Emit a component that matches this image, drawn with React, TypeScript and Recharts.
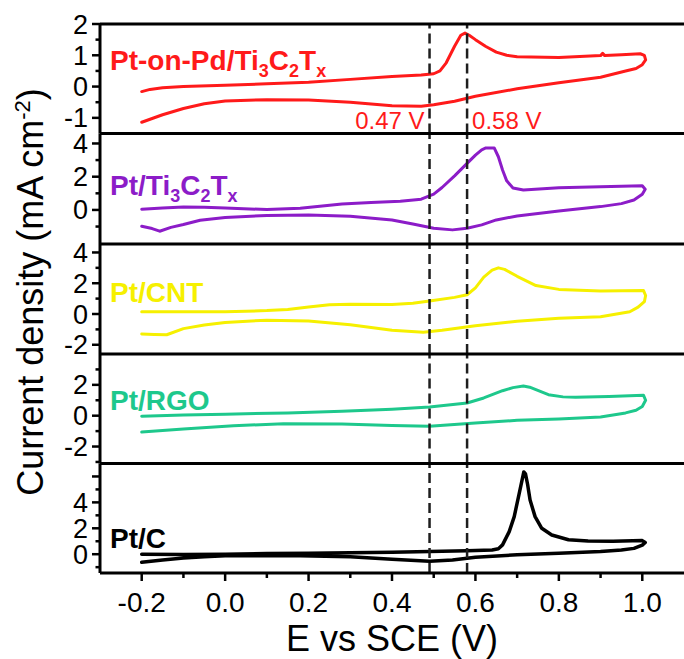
import React from 'react';
import { LineChart, Line, XAxis, YAxis, ReferenceLine } from 'recharts';

type Pt = [number, number];

const W = 684;
const H = 659;
const FONT = '"Liberation Sans", Arial, Helvetica, sans-serif';

// ---------- axis values / labels ----------
const X_DOMAIN: [number, number] = [-0.3, 1.1];
const X_TICKS_MAJOR = [-0.2, 0.0, 0.2, 0.4, 0.6, 0.8, 1.0];
const X_TICKS_MINOR = [-0.1, 0.1, 0.3, 0.5, 0.7, 0.9];
const X_TITLE = 'E vs SCE (V)';
const Y_TITLE = 'Current density (mA cm';
const Y_TITLE_SUP = '-2';

const MARKER_E = [0.49, 0.58];
const MARKER_LABELS = ['0.47 V', '0.58 V'];

// ---------- series (E in V, j in mA cm-2), forward then reverse scan ----------
const PT_ON_PD_TI3C2TX: Pt[] = [
  [-0.2, -0.16], [-0.18, -0.09], [-0.15, -0.04], [-0.1, 0.0], [0.0, 0.04], [0.1, 0.09],
  [0.2, 0.14], [0.3, 0.23], [0.4, 0.32], [0.47, 0.37], [0.5, 0.41], [0.515, 0.5],
  [0.53, 0.76], [0.55, 1.29], [0.565, 1.64], [0.575, 1.71], [0.585, 1.64], [0.6, 1.5],
  [0.625, 1.28], [0.65, 1.1], [0.675, 1.0], [0.7, 0.95], [0.8, 0.93], [0.9, 0.99],
  [0.905, 1.06], [0.91, 0.99], [0.95, 1.02], [0.995, 1.05], [1.005, 1.0], [1.008, 0.85],
  [1.0, 0.7], [0.985, 0.58], [0.96, 0.5], [0.9, 0.3], [0.8, 0.12], [0.7, -0.07],
  [0.6, -0.31], [0.55, -0.47], [0.5, -0.58], [0.47, -0.63], [0.4, -0.61], [0.3, -0.5],
  [0.2, -0.43], [0.1, -0.42], [0.0, -0.46], [-0.05, -0.55], [-0.1, -0.7], [-0.15, -0.9],
  [-0.2, -1.14],
];

const PT_TI3C2TX: Pt[] = [
  [-0.2, 0.04], [-0.15, 0.12], [-0.1, 0.18], [-0.05, 0.16], [0.0, 0.12], [0.1, 0.02],
  [0.18, 0.1], [0.28, 0.36], [0.35, 0.45], [0.42, 0.52], [0.47, 0.65], [0.5, 0.95],
  [0.52, 1.35], [0.55, 2.05], [0.58, 2.8], [0.6, 3.3], [0.615, 3.62], [0.625, 3.73],
  [0.645, 3.73], [0.655, 3.2], [0.665, 2.4], [0.675, 1.75], [0.69, 1.32], [0.715, 1.2],
  [0.8, 1.33], [0.9, 1.4], [1.0, 1.45], [1.007, 1.25], [1.0, 0.95], [0.98, 0.6],
  [0.95, 0.38], [0.9, 0.2], [0.8, -0.06], [0.7, -0.36], [0.65, -0.6], [0.615, -0.9],
  [0.58, -1.1], [0.545, -1.2], [0.5, -1.1], [0.45, -0.85], [0.4, -0.6], [0.3, -0.38],
  [0.2, -0.3], [0.1, -0.33], [0.0, -0.45], [-0.06, -0.62], [-0.1, -0.88], [-0.13, -1.05],
  [-0.157, -1.28], [-0.175, -1.12], [-0.2, -0.98],
];

const PT_CNT: Pt[] = [
  [-0.2, 0.15], [-0.1, 0.15], [0.0, 0.15], [0.1, 0.22], [0.15, 0.3], [0.2, 0.45],
  [0.25, 0.6], [0.3, 0.64], [0.4, 0.62], [0.45, 0.7], [0.49, 0.85], [0.55, 1.08],
  [0.58, 1.25], [0.6, 1.7], [0.62, 2.4], [0.64, 2.85], [0.655, 3.0], [0.67, 2.9],
  [0.7, 2.45], [0.745, 1.85], [0.8, 1.6], [0.9, 1.5], [1.003, 1.52], [1.008, 1.2],
  [1.005, 0.8], [0.99, 0.45], [0.97, 0.15], [0.9, -0.18], [0.8, -0.28], [0.7, -0.47],
  [0.6, -0.76], [0.52, -1.05], [0.475, -1.18], [0.4, -1.06], [0.3, -0.7], [0.2, -0.45],
  [0.1, -0.4], [0.0, -0.55], [-0.05, -0.72], [-0.1, -0.95], [-0.14, -1.35], [-0.17, -1.33],
  [-0.2, -1.3],
];

const PT_RGO: Pt[] = [
  [-0.2, -0.03], [-0.1, 0.05], [0.0, 0.1], [0.15, 0.18], [0.28, 0.28], [0.4, 0.42],
  [0.49, 0.56], [0.58, 0.82], [0.62, 1.15], [0.665, 1.62], [0.69, 1.82], [0.715, 1.92],
  [0.73, 1.85], [0.745, 1.69], [0.775, 1.36], [0.81, 1.22], [0.84, 1.19], [0.92, 1.25],
  [1.003, 1.32], [1.008, 1.0], [1.0, 0.6], [0.985, 0.35], [0.96, 0.18], [0.9, -0.08],
  [0.8, -0.21], [0.7, -0.3], [0.6, -0.47], [0.49, -0.69], [0.4, -0.63], [0.28, -0.54],
  [0.14, -0.52], [0.02, -0.65], [-0.1, -0.87], [-0.2, -1.06],
];

const PT_C: Pt[] = [
  [-0.2, 0.0], [-0.1, -0.02], [0.0, 0.0], [0.1, 0.05], [0.2, 0.08], [0.3, 0.12],
  [0.4, 0.16], [0.49, 0.2], [0.58, 0.26], [0.64, 0.33], [0.655, 0.42], [0.665, 0.72],
  [0.681, 1.74], [0.693, 2.9], [0.705, 4.7], [0.716, 6.35], [0.72, 6.2], [0.725, 5.4],
  [0.731, 4.18], [0.743, 2.9], [0.759, 2.0], [0.783, 1.48], [0.823, 1.12], [0.87, 1.02],
  [0.93, 1.0], [1.0, 1.05], [1.007, 0.9], [1.0, 0.7], [0.98, 0.45], [0.95, 0.32],
  [0.9, 0.2], [0.8, 0.08], [0.7, -0.05], [0.6, -0.23], [0.545, -0.45], [0.49, -0.55],
  [0.4, -0.38], [0.3, -0.2], [0.15, -0.1], [0.0, -0.12], [-0.05, -0.2], [-0.1, -0.3],
  [-0.15, -0.44], [-0.2, -0.62],
];

// ---------- panel layout / styling ----------
const BOUNDS = [24, 133.5, 244, 354, 463.5, 573];

type Part = [string, boolean];
interface PanelCfg {
  data: Pt[];
  color: string;
  width: number;
  domain: [number, number];
  labeled: number[];
  major: number[];
  minor: number[];
  name: Part[];
  nameY: number;
}

const PANELS: PanelCfg[] = [
  {
    data: PT_ON_PD_TI3C2TX, color: '#ff1a1a', width: 3, domain: [-1.5, 2],
    labeled: [-1, 0, 1, 2], major: [], minor: [-0.5, 0.5, 1.5],
    name: [['Pt-on-Pd/Ti', false], ['3', true], ['C', false], ['2', true], ['T', false], ['x', true]],
    nameY: 70,
  },
  {
    data: PT_TI3C2TX, color: '#8c1cc8', width: 3, domain: [-2.05, 4.6],
    labeled: [0, 2, 4], major: [], minor: [-1, 1, 3],
    name: [['Pt/Ti', false], ['3', true], ['C', false], ['2', true], ['T', false], ['x', true]],
    nameY: 195,
  },
  {
    data: PT_CNT, color: '#f6f000', width: 3, domain: [-2.6, 4.55],
    labeled: [-2, 0, 2, 4], major: [], minor: [-1, 1, 3],
    name: [['Pt/CNT', false]],
    nameY: 302,
  },
  {
    data: PT_RGO, color: '#1ec88c', width: 3, domain: [-3.1, 4.0],
    labeled: [-2, 0, 2], major: [], minor: [-3, -1, 1, 3],
    name: [['Pt/RGO', false]],
    nameY: 410,
  },
  {
    data: PT_C, color: '#000000', width: 3.5, domain: [-1.45, 7.0],
    labeled: [0, 2, 4], major: [6], minor: [-1, 1, 3, 5],
    name: [['Pt/C', false]],
    nameY: 548,
  },
];

const near = (a: number, b: number) => Math.abs(a - b) < 1e-9;

const XTick = (props: any) => {
  const { x, y, payload } = props;
  const v = payload.value as number;
  const major = X_TICKS_MAJOR.some((m) => near(m, v));
  return (
    <g>
      <line x1={x} x2={x} y1={y} y2={y + (major ? 8 : 5)} stroke="#000" strokeWidth={2.5} />
      {major && (
        <text x={x} y={y + 39} textAnchor="middle" fontSize={28} fontFamily={FONT} fill="#000">
          {v.toFixed(1)}
        </text>
      )}
    </g>
  );
};

const makeYTick = (p: PanelCfg) => (props: any) => {
  const { x, y, payload } = props;
  const v = payload.value as number;
  const lab = p.labeled.some((m) => near(m, v));
  const maj = lab || p.major.some((m) => near(m, v));
  return (
    <g>
      <line x1={x} x2={x - (maj ? 8 : 4.5)} y1={y} y2={y} stroke="#000" strokeWidth={2.5} />
      {lab && (
        <text x={x - 12} y={y + 9.5} textAnchor="end" fontSize={27} fontFamily={FONT} fill="#000">
          {String(v)}
        </text>
      )}
    </g>
  );
};

const PanelName = ({ parts, y, color }: { parts: Part[]; y: number; color: string }) => (
  <text x={110} y={y} fill={color} fontSize={28} fontWeight="bold" fontFamily={FONT}>
    {parts.map(([t, sub], i) => {
      const prevSub = i > 0 && parts[i - 1][1];
      const dy = sub ? 7 : prevSub ? -7 : 0;
      return (
        <tspan key={i} dy={dy} fontSize={sub ? 18 : 28}>
          {t}
        </tspan>
      );
    })}
  </text>
);

const Panel = ({ p, index }: { p: PanelCfg; index: number }) => {
  const last = index === PANELS.length - 1;
  const first = index === 0;
  const top = BOUNDS[index];
  const bottom = BOUNDS[index + 1];
  const yTicks = [...p.labeled, ...p.major, ...p.minor].sort((a, b) => a - b);
  const xTicks = [...X_TICKS_MAJOR, ...X_TICKS_MINOR].sort((a, b) => a - b);
  const lineData = p.data.map(([x, y]) => ({ x, y }));
  return (
    <div style={{ position: 'absolute', left: 0, top: 0 }}>
      <LineChart
        width={W}
        height={H}
        margin={{ top, right: 0, left: 0, bottom: last ? 0 : H - bottom }}
      >
        <XAxis
          type="number"
          dataKey="x"
          domain={X_DOMAIN}
          allowDataOverflow
          hide={!last}
          ticks={xTicks}
          interval={0}
          tickSize={0}
          tickMargin={0}
          tickLine={false}
          tick={XTick}
          axisLine={{ stroke: '#000', strokeWidth: 3 }}
          height={H - bottom}
        />
        <YAxis
          type="number"
          domain={p.domain}
          allowDataOverflow
          ticks={yTicks}
          interval={0}
          tickSize={0}
          tickMargin={0}
          tickLine={false}
          tick={makeYTick(p)}
          axisLine={{ stroke: '#000', strokeWidth: 3 }}
          width={100}
        />
        <Line
          data={lineData}
          dataKey="y"
          type="linear"
          stroke={p.color}
          strokeWidth={p.width}
          strokeLinejoin="round"
          strokeLinecap="round"
          dot={false}
          activeDot={false}
          isAnimationActive={false}
        />
        {MARKER_E.map((e, i) => (
          <ReferenceLine
            key={'m' + i}
            x={e}
            stroke="#1e1e1e"
            strokeWidth={2.5}
            strokeDasharray="10 5"
            ifOverflow="visible"
            label={
              first
                ? {
                    value: MARKER_LABELS[i],
                    position: i === 0 ? 'insideBottomRight' : 'insideBottomLeft',
                    offset: 5,
                    fill: '#ff1a1a',
                    fontSize: 24,
                    fontFamily: FONT,
                  }
                : undefined
            }
          />
        ))}
        <ReferenceLine y={p.domain[1]} stroke="#000" strokeWidth={3} ifOverflow="visible" />
        <PanelName parts={p.name} y={p.nameY} color={p.color} />
        {first && (
          <text
            x={43}
            y={292}
            transform="rotate(-90, 43, 292)"
            textAnchor="middle"
            fontSize={36}
            fontFamily={FONT}
            fill="#000"
          >
            {Y_TITLE}
            <tspan dy={-13} fontSize={22}>
              {Y_TITLE_SUP}
            </tspan>
            <tspan dy={13} fontSize={36}>
              )
            </tspan>
          </text>
        )}
        {last && (
          <text x={392} y={651} textAnchor="middle" fontSize={36} fontFamily={FONT} fill="#000">
            {X_TITLE}
          </text>
        )}
      </LineChart>
    </div>
  );
};

export default function App() {
  return (
    <div
      style={{
        position: 'absolute',
        left: 0,
        top: 0,
        width: W,
        height: H,
        background: '#fff',
        overflow: 'hidden',
      }}
    >
      {PANELS.map((p, i) => (
        <Panel key={i} p={p} index={i} />
      ))}
    </div>
  );
}
